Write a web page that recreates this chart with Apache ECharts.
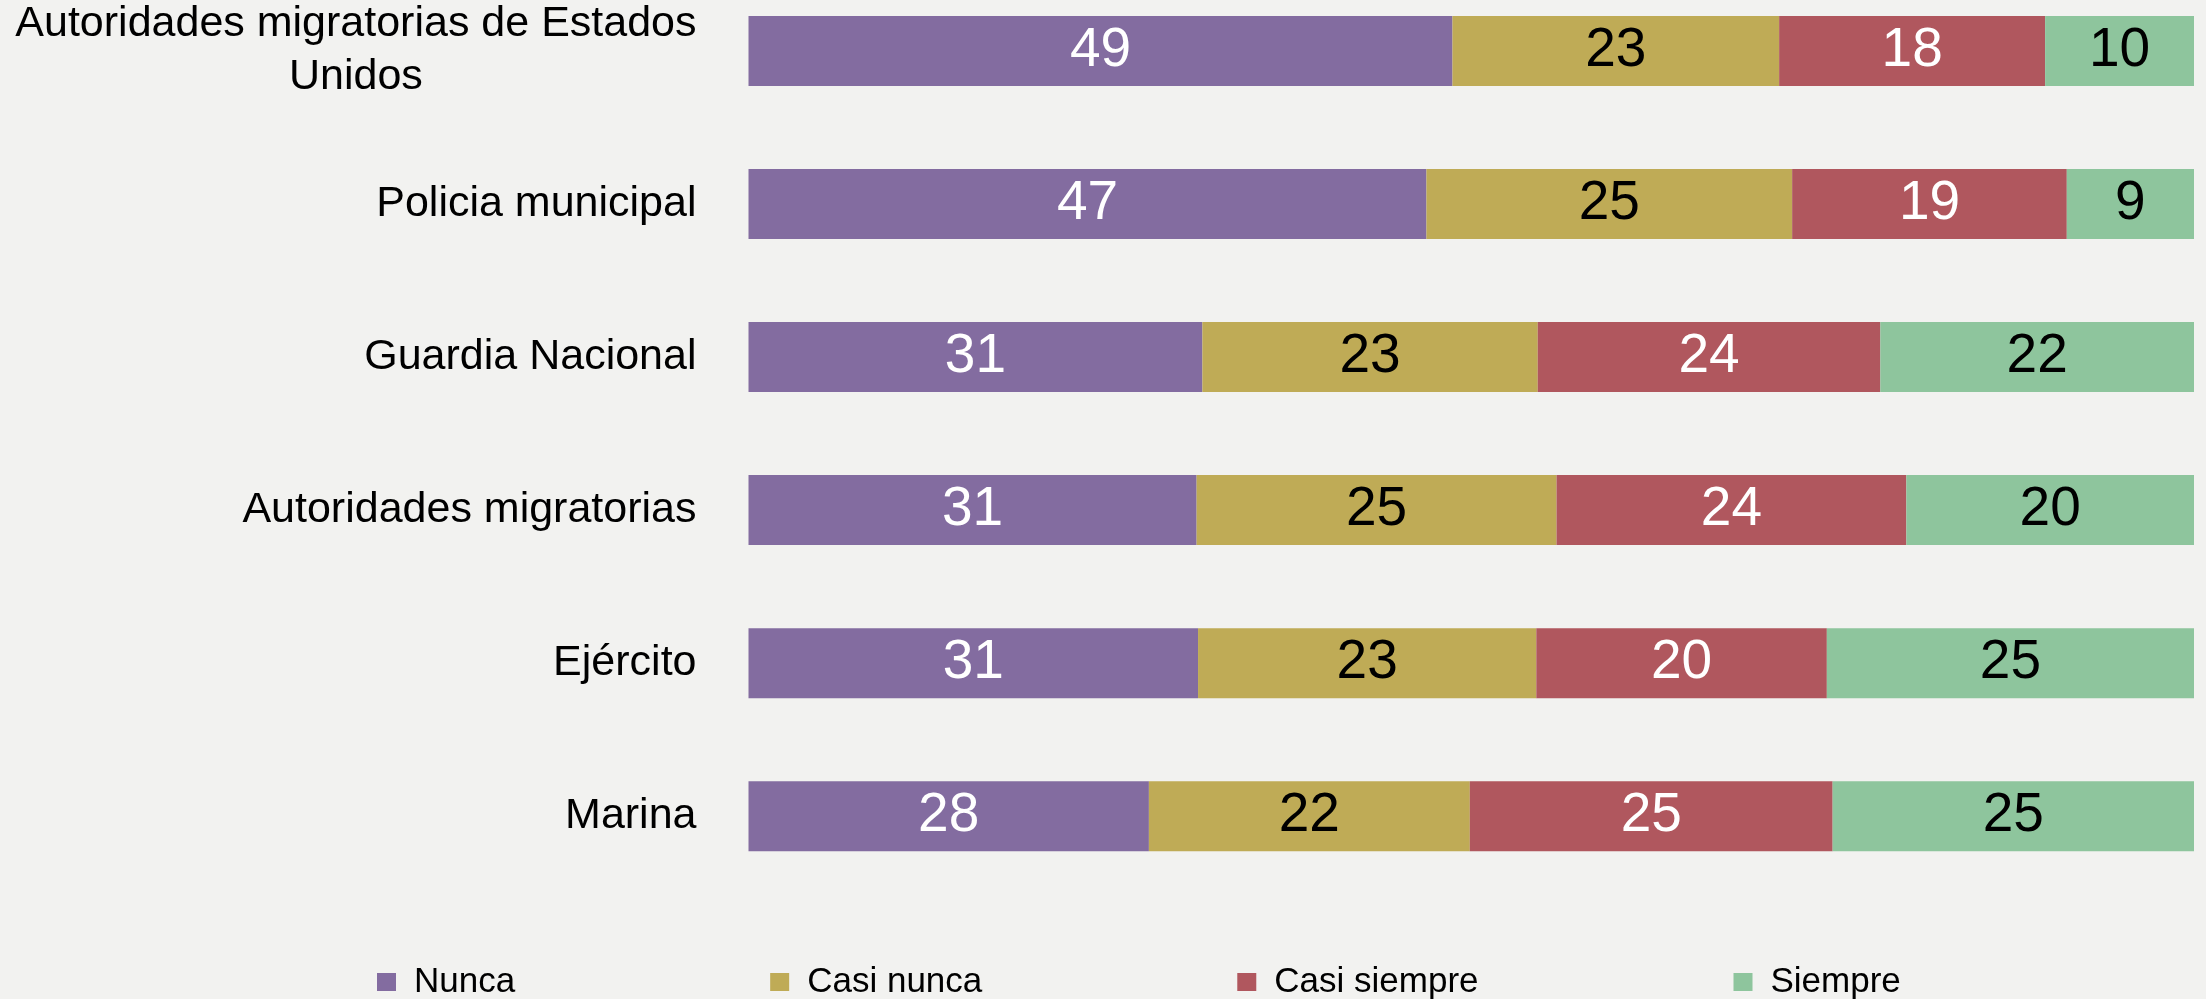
<!DOCTYPE html>
<html>
<head>
<meta charset="utf-8">
<style type="text/css">
    html, body {margin: 0; padding: 0; background: #f2f2f0; overflow: hidden;}
    #chart {position: absolute; left: 0; top: -26px;}
</style>
</head>
<body>
<!-- la primera banda empieza por encima del borde, por eso el div sube 26px -->
<div style="width: 2206px;height: 1025px;" id="chart"></div>
<script src="https://cdn.jsdelivr.net/npm/echarts@6/dist/echarts.min.js"></script>
<script>

// filas de arriba hacia abajo
let categorias = ['Autoridades migratorias de Estados Unidos', 'Policia municipal', 'Guardia Nacional',
    'Autoridades migratorias', 'Ejército', 'Marina'];

let nunca = [48.7, 46.9, 31.4, 31.0, 31.1, 27.7];
let casiNunca = [22.6, 25.3, 23.2, 24.9, 23.4, 22.2];
let casiSiempre = [18.4, 19.0, 23.7, 24.2, 20.1, 25.1];
let siempre = [10.3, 8.8, 21.7, 19.9, 25.4, 25.0];

let font = '"Liberation Sans", Arial, sans-serif';

let chart = echarts.init(document.getElementById('chart'));

function serie(name, data, color, textColor) {
    return {
        name: name,
        type: 'bar',
        stack: 'total',
        data: data,
        barWidth: 70,
        itemStyle: {color: color},
        label: {
            show: true,
            position: 'inside',
            color: textColor,
            fontSize: 55,
            fontFamily: font,
            formatter: p => Math.round(p.value)
        },
        emphasis: {disabled: true}
    };
}

let option = {
    backgroundColor: '#f2f2f0',
    animation: false,
    grid: {
        left: 748.5,
        right: 12,
        top: 0.5,
        bottom: 106.3,
        containLabel: false
    },
    legend: {
        left: 372,
        top: 984,
        icon: 'rect',
        itemWidth: 19,
        itemHeight: 18,
        itemGap: 255,
        textStyle: {
            fontSize: 35,
            lineHeight: 38,
            fontFamily: font,
            color: '#000',
            padding: [0, 0, 0, 13]
        }
    },
    xAxis: {
        type: 'value',
        min: 0,
        max: 100,
        show: false
    },
    yAxis: {
        type: 'category',
        inverse: true,
        data: categorias,
        axisLine: {show: false},
        axisTick: {show: false},
        splitLine: {show: false},
        axisLabel: {
            margin: 52,
            color: '#000',
            fontSize: 43,
            fontFamily: font,
            formatter: v => {
                if (v.indexOf('Estados Unidos') > -1) {
                    return '{c|Autoridades migratorias de Estados}\n{c|Unidos}';
                }
                return v;
            },
            rich: {
                c: {
                    align: 'center',
                    fontSize: 43,
                    lineHeight: 53,
                    fontFamily: font,
                    color: '#000'
                }
            }
        }
    },
    series: [
        serie('Nunca', nunca, '#836ca0', '#fff'),
        serie('Casi nunca', casiNunca, '#bfab56', '#000'),
        serie('Casi siempre', casiSiempre, '#b0575e', '#fff'),
        serie('Siempre', siempre, '#8ec59d', '#000')
    ]
};

chart.setOption(option);

</script>
</body>
</html>
